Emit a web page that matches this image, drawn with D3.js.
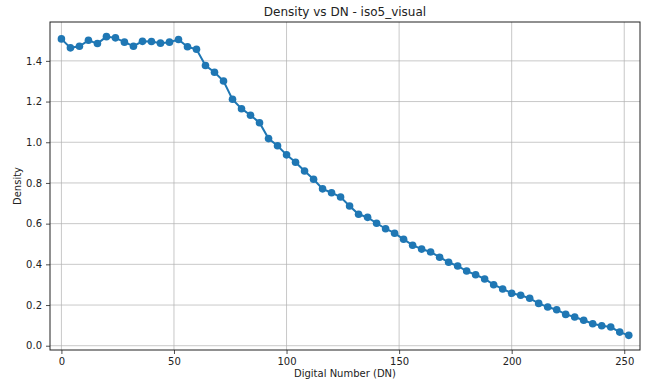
<!DOCTYPE html>
<html>
<head>
<meta charset="utf-8">
<script src="https://cdn.jsdelivr.net/npm/d3@7"></script>
<style>
  body { margin: 0; background: #fff; }
  svg { font-family: "DejaVu Sans", sans-serif; }
</style>
</head>
<body>
<div id="rootDiv"></div>
<script>
const width = 658
const height = 383
const margin = { top: 22, right: 18, bottom: 33, left: 50 }

const title = "Density vs DN - iso5_visual"
const xLabel = "Digital Number (DN)"
const yLabel = "Density"

// digital numbers sampled every 4 DN
const dn = d3.range(0, 256, 4)
const density = [
    1.508, 1.464, 1.472, 1.501, 1.485, 1.519, 1.513, 1.492,
    1.472, 1.496, 1.495, 1.487, 1.492, 1.505, 1.469, 1.457,
    1.377, 1.344, 1.301, 1.211, 1.165, 1.133, 1.096, 1.018,
    0.983, 0.938, 0.902, 0.859, 0.818, 0.771, 0.752, 0.731,
    0.687, 0.646, 0.631, 0.602, 0.575, 0.553, 0.523, 0.494,
    0.475, 0.461, 0.435, 0.410, 0.392, 0.367, 0.349, 0.328,
    0.300, 0.279, 0.258, 0.248, 0.233, 0.208, 0.190, 0.177,
    0.154, 0.141, 0.125, 0.108, 0.098, 0.092, 0.067, 0.051
]
const xTicks = [0, 50, 100, 150, 200, 250]
const yTicks = [0, 0.2, 0.4, 0.6, 0.8, 1.0, 1.2, 1.4]

const lineColor = "#1f77b4"

const svg = d3.select("#rootDiv")
    .append("svg")
    .attr("width", width)
    .attr("height", height)

const x = d3.scaleLinear()
    .domain([-5.07, 257])
    .range([margin.left, width - margin.right])

const y = d3.scaleLinear()
    .domain([-0.021, 1.591])
    .range([height - margin.bottom, margin.top])

const g = svg.append("g")

// grid
g.selectAll(".gx")
    .data(xTicks)
    .enter()
    .append("line")
    .attr("x1", d => x(d)).attr("x2", d => x(d))
    .attr("y1", margin.top).attr("y2", height - margin.bottom)
    .attr("stroke", "#b0b0b0")
    .attr("stroke-opacity", 0.7)
    .attr("stroke-width", 1)

g.selectAll(".gy")
    .data(yTicks)
    .enter()
    .append("line")
    .attr("y1", d => y(d)).attr("y2", d => y(d))
    .attr("x1", margin.left).attr("x2", width - margin.right)
    .attr("stroke", "#b0b0b0")
    .attr("stroke-opacity", 0.7)
    .attr("stroke-width", 1)

// axes
const xAxis = d3.axisBottom(x).tickValues(xTicks).tickSize(4).tickPadding(4).tickFormat(d3.format("d"))
const yAxis = d3.axisLeft(y).tickValues(yTicks).tickSize(4).tickPadding(4).tickFormat(d3.format(".1f"))

svg.append("g")
    .attr("transform", `translate(0, ${height - margin.bottom})`)
    .call(xAxis)
    .call(a => a.select(".domain").remove())
    .call(a => a.selectAll("text").attr("font-size", 10).attr("fill", "#222").attr("font-family", "DejaVu Sans"))
    .call(a => a.selectAll("line").attr("stroke", "#222").attr("stroke-width", 0.8))

svg.append("g")
    .attr("transform", `translate(${margin.left}, 0)`)
    .call(yAxis)
    .call(a => a.select(".domain").remove())
    .call(a => a.selectAll("text").attr("font-size", 10).attr("fill", "#222").attr("font-family", "DejaVu Sans"))
    .call(a => a.selectAll("line").attr("stroke", "#222").attr("stroke-width", 0.8))

// spines
svg.append("rect")
    .attr("x", margin.left)
    .attr("y", margin.top)
    .attr("width", width - margin.left - margin.right)
    .attr("height", height - margin.top - margin.bottom)
    .attr("fill", "none")
    .attr("stroke", "#222")
    .attr("stroke-width", 1)

// series
const pts = dn.map((d, i) => [d, density[i]])

const line = d3.line()
    .x(d => x(d[0]))
    .y(d => y(d[1]))

svg.append("path")
    .attr("d", line(pts))
    .attr("fill", "none")
    .attr("stroke", lineColor)
    .attr("stroke-width", 2)

svg.selectAll(".pt")
    .data(pts)
    .enter()
    .append("circle")
    .attr("cx", d => x(d[0]))
    .attr("cy", d => y(d[1]))
    .attr("r", 3.8)
    .attr("fill", lineColor)

// labels
svg.append("text")
    .attr("x", (margin.left + width - margin.right) / 2)
    .attr("y", 16)
    .attr("text-anchor", "middle")
    .attr("font-size", 12)
    .attr("fill", "#222")
    .text(title)

svg.append("text")
    .attr("x", (margin.left + width - margin.right) / 2)
    .attr("y", 377)
    .attr("text-anchor", "middle")
    .attr("font-size", 10)
    .attr("fill", "#222")
    .text(xLabel)

svg.append("text")
    .attr("transform", `translate(21, ${(margin.top + height - margin.bottom) / 2}) rotate(-90)`)
    .attr("text-anchor", "middle")
    .attr("font-size", 10)
    .attr("fill", "#222")
    .text(yLabel)
</script>
</body>
</html>
